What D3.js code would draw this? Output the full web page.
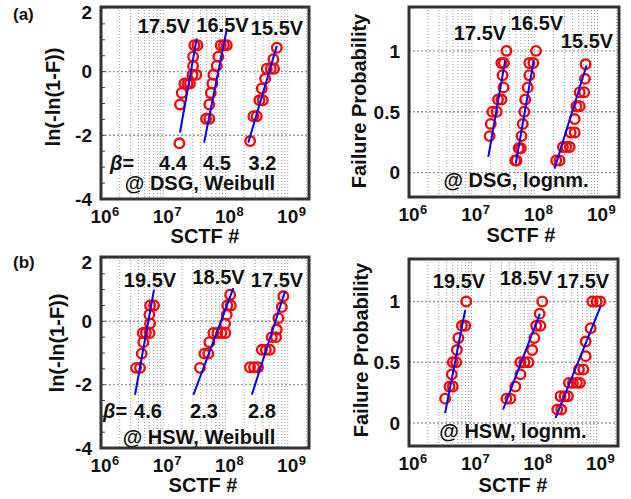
<!DOCTYPE html>
<html>
<head>
<meta charset="utf-8">
<script src="https://cdn.jsdelivr.net/npm/d3@7"></script>
<style>
  body { margin: 0; background: #fff; }
  svg text { font-family: "Liberation Sans", Arial, sans-serif; font-weight: bold; fill: #111; }
</style>
</head>
<body>
<div class="chart"></div>
<script>
// categories / labels
const dsgVolts = ["17.5V", "16.5V", "15.5V"];
const hswVolts = ["19.5V", "18.5V", "17.5V"];
const dsgBeta = ["4.4", "4.5", "3.2"];
const hswBeta = ["4.6", "2.3", "2.8"];
const decades = [6, 7, 8, 9];
const weibullTicks = [-4, -2, 0, 2];
const probTicks = [0, 0.5, 1];

// (a) DSG, Weibull: [SCTF, ln(-ln(1-F))]
const dsgWbl175 = [[1.82e7,-2.25],[1.86e7,-1.03],[1.98e7,-0.67],[2.19e7,-0.37],[2.45e7,-0.37],[2.69e7,-0.37],
  [2.95e7,-0.1],[3.39e7,-0.1],[3.02e7,0.18],[3.02e7,0.47],[3.16e7,0.83],[3.55e7,0.83]];
const dsgWbl165 = [[4.88e7,-1.48],[5.51e7,-1.48],[5.5e7,-1.03],[5.81e7,-0.67],[6.17e7,-0.37],[6.4e7,-0.1],
  [7.24e7,0.18],[7.69e7,0.47],[8.39e7,0.83],[9.48e7,0.83],[1.05e8,0.83]];
const dsgWbl155 = [[2.49e8,-2.18],[2.81e8,-1.4],[3.18e8,-1.4],[3.51e8,-0.9],[3.98e8,-0.9],[3.83e8,-0.53],
  [4.34e8,-0.22],[4.61e8,0.09],[5.35e8,0.09],[6.04e8,0.09],[5.89e8,0.39],[6.68e8,0.75]];
const dsgWblFit = [[[1.86e7,-1.91],[3.46e7,1.04]], [[4.53e7,-2.23],[1.05e8,1.33]], [[2.33e8,-2.23],[6.68e8,0.81]]];

// (a) DSG, lognormal: [SCTF, F]
const dsgLog175 = [[1.92e7,0.3],[2.0e7,0.4],[2.12e7,0.5],[2.49e7,0.5],[2.61e7,0.6],[2.96e7,0.6],[3.19e7,0.7],
  [3.08e7,0.8],[2.95e7,0.9],[3.24e7,0.9],[3.56e7,1.0]];
const dsgLog165 = [[4.9e7,0.1],[5.15e7,0.1],[5.56e7,0.2],[6.03e7,0.2],[6.17e7,0.3],[6.46e7,0.4],[6.84e7,0.5],
  [7.08e7,0.6],[7.76e7,0.7],[8.22e7,0.8],[8.22e7,0.9],[9.55e7,0.9],[1.05e8,1.0]];
const dsgLog155 = [[2.2e8,0.1],[2.49e8,0.1],[2.82e8,0.21],[3.19e8,0.21],[3.61e8,0.21],[3.74e8,0.33],[4.34e8,0.33],
  [4.34e8,0.44],[4.61e8,0.545],[5.21e8,0.545],[5.21e8,0.66],[6.14e8,0.66],[6.31e8,0.77],[6.46e8,0.89]];
const dsgLogFit = [[[1.83e7,0.13],[3.39e7,0.92]], [[5.01e7,0.075],[9.66e7,0.92]], [[2.07e8,0.033],[6.68e8,0.88]]];

// (b) HSW, Weibull
const hswWbl195 = [[3.66e6,-1.47],[4.24e6,-1.47],[4.51e6,-1.02],[4.79e6,-0.66],[4.68e6,-0.37],[5.25e6,-0.37],
  [6.03e6,-0.37],[6.14e6,-0.07],[5.98e6,0.21],[6.14e6,0.5],[7.11e6,0.5]];
const hswWbl185 = [[3.89e7,-1.47],[4.58e7,-1.02],[5.31e7,-1.02],[5.51e7,-0.66],[6.4e7,-0.37],[7.41e7,-0.37],
  [8.59e7,-0.37],[9.95e7,-0.37],[9.86e7,-0.08],[1.05e8,0.21],[1.07e8,0.5],[1.22e8,0.5],[1.19e8,0.84]];
const hswWbl175 = [[2.48e8,-1.45],[2.88e8,-1.45],[3.34e8,-1.45],[3.84e8,-0.9],[4.45e8,-0.9],[5.15e8,-0.9],
  [5.55e8,-0.5],[6.5e8,-0.5],[6.67e8,-0.26],[7.08e8,0.1],[8.04e8,0.45],[8.51e8,0.79]];
const hswWblFit = [[[3.52e6,-2.32],[7.11e6,1.0]], [[3.05e7,-2.32],[1.34e8,1.05]], [[2.65e8,-2.32],[9.08e8,0.95]]];

// (b) HSW, lognormal
const hswLog195 = [[3.78e6,0.2],[4.44e6,0.3],[5.01e6,0.3],[4.84e6,0.4],[5.01e6,0.5],[5.68e6,0.5],[5.82e6,0.6],
  [6.17e6,0.7],[7.01e6,0.8],[7.94e6,0.8],[8.22e6,1.0]];
const hswLog185 = [[3.61e7,0.2],[4.18e7,0.2],[5.01e7,0.3],[6.05e7,0.4],[6.05e7,0.5],[7.01e7,0.5],[8.13e7,0.5],
  [9.33e7,0.6],[1.01e8,0.7],[1.08e8,0.8],[1.26e8,0.8],[1.23e8,0.9],[1.35e8,1.0]];
const hswLog175 = [[2.35e8,0.11],[2.72e8,0.11],[2.65e8,0.22],[3.08e8,0.22],[3.48e8,0.22],[3.61e8,0.33],[4.18e8,0.33],
  [4.84e8,0.33],[5.41e8,0.33],[5.22e8,0.44],[6.14e8,0.44],[6.68e8,0.55],[6.68e8,0.67],[8.04e8,0.78],
  [8.55e8,1.0],[1.0e9,1.0],[1.14e9,1.0]];
const hswLogFit = [[[3.78e6,0.082],[7.93e6,0.93]], [[3.19e7,0.11],[1.24e8,0.9]], [[2.2e8,0.04],[1.16e9,0.96]]];

const W = 631, H = 499;
const svg = d3.select('.chart').append('svg').attr('width', W).attr('height', H);

function drawPanel(p) {
  const g = svg.append('g');
  const x = d3.scaleLog().domain([1e6, 2.2e9]).range([p.x0, p.x1]);
  const y = d3.scaleLinear().domain(p.yDomain).range([p.y1, p.y0]);

  // vertical minor grid (log decades)
  const minor = [];
  decades.forEach(e => { for (let m = 1; m <= 9; m++) { const v = m * Math.pow(10, e); if (v > 1e6 && v < 2.2e9) minor.push(v); } });
  g.selectAll('.vgrid').data(minor).enter().append('line')
    .attr('x1', d => x(d)).attr('x2', d => x(d))
    .attr('y1', p.y0).attr('y2', p.y1)
    .attr('stroke', '#9c9c9c').attr('stroke-width', 1).attr('stroke-dasharray', '1,2');
  // horizontal grid at major ticks
  g.selectAll('.hgrid').data(p.ticks).enter().append('line')
    .attr('x1', p.x0).attr('x2', p.x1)
    .attr('y1', d => y(d)).attr('y2', d => y(d))
    .attr('stroke', '#999').attr('stroke-width', 1.4).attr('stroke-dasharray', '2,2');

  // minor ticks on left border
  if (p.minorStep) {
    const mt = d3.range(p.yDomain[0], p.yDomain[1], p.minorStep);
    g.selectAll('.mt').data(mt).enter().append('line')
      .attr('x1', p.x0).attr('x2', p.x0 + 4)
      .attr('y1', d => y(d)).attr('y2', d => y(d))
      .attr('stroke', '#444').attr('stroke-width', 1);
  }

  // series
  p.series.forEach(s => {
    g.selectAll(null).data(s).enter().append('circle')
      .attr('cx', d => x(d[0])).attr('cy', d => y(d[1])).attr('r', 4.8)
      .attr('fill', 'none').attr('stroke', '#ff0000').attr('stroke-width', 2.3);
  });
  const line = d3.line().x(d => x(d[0])).y(d => y(d[1]));
  p.fits.forEach(f => {
    g.append('path').attr('d', line(f)).attr('fill', 'none')
      .attr('stroke', '#0000ff').attr('stroke-width', 2);
  });

  // frame
  g.append('rect').attr('x', p.x0).attr('y', p.y0)
    .attr('width', p.x1 - p.x0).attr('height', p.y1 - p.y0)
    .attr('fill', 'none').attr('stroke', '#333').attr('stroke-width', 3);

  // y tick labels (kept inside the figure at the top)
  g.selectAll('.yt').data(p.ticks).enter().append('text')
    .attr('x', p.x0 - 9).attr('y', d => Math.max(y(d), p.y0 + 5)).attr('dy', '0.36em')
    .attr('text-anchor', 'end').style('font-size', '19px')
    .text(d => d);

  // x tick labels 10^n
  decades.forEach(e => {
    const tx = x(Math.pow(10, e));
    g.append('text').attr('x', tx).attr('y', p.y1 + 24)
      .attr('text-anchor', 'middle').style('font-size', '19px').text('10');
    g.append('text').attr('x', tx + 11).attr('y', p.y1 + 17)
      .style('font-size', '13px').text(e);
  });

  // axis titles
  g.append('text').attr('x', p.xlab[0]).attr('y', p.xlab[1])
    .attr('text-anchor', 'middle').style('font-size', '20px').text('SCTF #');
  g.append('text')
    .attr('transform', `translate(${p.ylab[0]},${p.ylab[1]}) rotate(-90)`)
    .attr('text-anchor', 'middle').style('font-size', '20px').text(p.ytitle);

  // voltage labels
  p.volts.forEach((v, i) => {
    g.append('text').attr('x', p.voltPos[i][0]).attr('y', p.voltPos[i][1])
      .attr('text-anchor', 'middle').style('font-size', '20px').text(v);
  });

  // beta values
  if (p.beta) {
    const bt = g.append('text').attr('x', p.betaPos[0][0]).attr('y', p.betaPos[0][1])
      .style('font-size', '20px');
    bt.append('tspan').style('font-style', 'italic').text('β');
    bt.append('tspan').text('=');
    p.beta.forEach((b, i) => {
      g.append('text').attr('x', p.betaPos[i + 1][0]).attr('y', p.betaPos[0][1])
        .attr('text-anchor', 'middle').style('font-size', '20px').text(b);
    });
  }

  g.append('text').attr('x', p.note[0]).attr('y', p.note[1])
    .attr('text-anchor', 'middle').style('font-size', '20px').text(p.noteText);
}

drawPanel({
  x0: 101, x1: 309, y0: 7, y1: 199, yDomain: [-4, 2.03], ticks: weibullTicks, minorStep: 0.5,
  series: [dsgWbl175, dsgWbl165, dsgWbl155], fits: dsgWblFit,
  ytitle: 'ln(-ln(1-F))', ylab: [60, 97], xlab: [205, 243],
  volts: dsgVolts, voltPos: [[164, 33], [222.5, 31.5], [277, 35]],
  beta: dsgBeta, betaPos: [[110, 170], [173, 170], [217, 170], [262.5, 170]],
  note: [200, 190], noteText: '@ DSG, Weibull'
});
drawPanel({
  x0: 409, x1: 619, y0: 7, y1: 197, yDomain: [-0.2, 1.36], ticks: probTicks,
  series: [dsgLog175, dsgLog165, dsgLog155], fits: dsgLogFit,
  ytitle: 'Failure Probability', ylab: [366, 101], xlab: [521, 242],
  volts: dsgVolts, voltPos: [[480, 40], [537, 30], [587, 48]],
  note: [516, 187], noteText: '@ DSG, lognm.'
});
drawPanel({
  x0: 101, x1: 309, y0: 257, y1: 448, yDomain: [-4, 2.03], ticks: weibullTicks, minorStep: 0.5,
  series: [hswWbl195, hswWbl185, hswWbl175], fits: hswWblFit,
  ytitle: 'ln(-ln(1-F))', ylab: [64, 343], xlab: [203, 492],
  volts: hswVolts, voltPos: [[150, 286.5], [218.5, 283.5], [277, 286.5]],
  beta: hswBeta, betaPos: [[103, 418], [148, 418], [204, 418], [262, 418]],
  note: [199, 444], noteText: '@ HSW, Weibull'
});
drawPanel({
  x0: 409, x1: 618, y0: 259, y1: 446, yDomain: [-0.19, 1.35], ticks: probTicks,
  series: [hswLog195, hswLog185, hswLog175], fits: hswLogFit,
  ytitle: 'Failure Probability', ylab: [368, 350], xlab: [513, 492],
  volts: hswVolts, voltPos: [[459, 288], [526, 285], [583, 288]],
  note: [513, 438], noteText: '@ HSW, lognm.'
});

svg.append('text').attr('x', 13).attr('y', 20).style('font-size', '17px').text('(a)');
svg.append('text').attr('x', 13).attr('y', 268).style('font-size', '17px').text('(b)');
</script>
</body>
</html>
